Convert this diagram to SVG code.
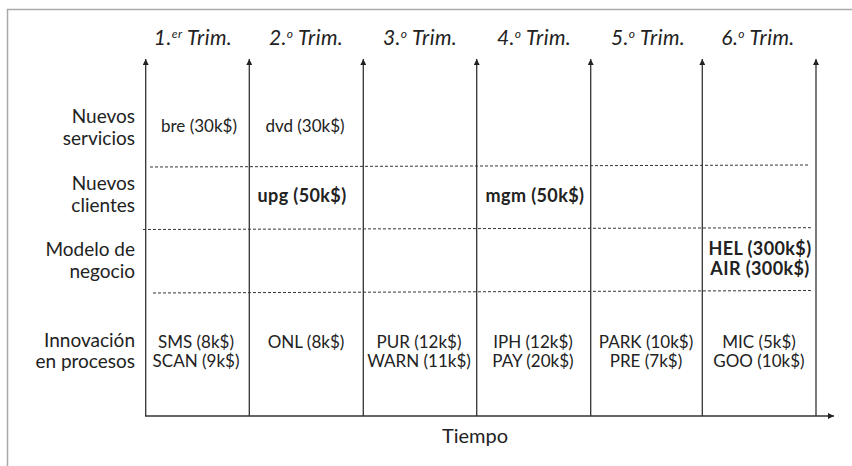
<svg xmlns="http://www.w3.org/2000/svg" width="852" height="466" viewBox="0 0 852 466">
<style>
.t{font-family:Lato,"Open Sans","Liberation Sans",sans-serif;fill:#222}
.lab{font-size:19px;text-anchor:end}
.cell{font-size:17px;text-anchor:middle}
.b{font-weight:bold;font-size:18px;letter-spacing:0.4px}
.hd{font-size:21px;font-style:italic;text-anchor:middle;letter-spacing:0.4px}
.sup{font-size:12px}
.ax{stroke:#333;stroke-width:1.3;fill:none}
.dash{stroke:#333;stroke-width:1;stroke-dasharray:3 2;fill:none}
</style>
<defs>
<marker id="ah" viewBox="0 0 8 8" refX="8" refY="4" markerWidth="6" markerHeight="6" markerUnits="userSpaceOnUse" orient="auto">
<path d="M0,0 L8,4 L0,8 Z" fill="#222"/>
</marker>
</defs>
<rect x="0" y="0" width="852" height="466" fill="#fff"/>
<path d="M7.5,466 V9.5 H852" stroke="#aaa" stroke-width="1.5" fill="none"/>

<g id="connectors">
<line class="ax" x1="145.7" y1="416" x2="145.7" y2="59" marker-end="url(#ah)"/>
<line class="ax" x1="249.3" y1="416" x2="249.3" y2="59" marker-end="url(#ah)"/>
<line class="ax" x1="363.3" y1="416" x2="363.3" y2="59" marker-end="url(#ah)"/>
<line class="ax" x1="476.7" y1="416" x2="476.7" y2="59" marker-end="url(#ah)"/>
<line class="ax" x1="590.7" y1="416" x2="590.7" y2="59" marker-end="url(#ah)"/>
<line class="ax" x1="702.3" y1="416" x2="702.3" y2="59" marker-end="url(#ah)"/>
<line class="ax" x1="816" y1="416" x2="816" y2="59" marker-end="url(#ah)"/>
<line class="ax" x1="145" y1="416" x2="834" y2="416" marker-end="url(#ah)"/>
<line class="dash" x1="150" y1="167" x2="808" y2="165"/>
<line class="dash" x1="143" y1="229.5" x2="811" y2="227.7"/>
<line class="dash" x1="153" y1="293" x2="812" y2="290.5"/>
</g>

<g id="headers">
<text class="t hd" x="193" y="45">1.<tspan class="sup" dy="-7">er</tspan><tspan dy="7"> Trim.</tspan></text>
<text class="t hd" x="306" y="45">2.<tspan class="sup" dy="-7">o</tspan><tspan dy="7"> Trim.</tspan></text>
<text class="t hd" x="420" y="45">3.<tspan class="sup" dy="-7">o</tspan><tspan dy="7"> Trim.</tspan></text>
<text class="t hd" x="534" y="45">4.<tspan class="sup" dy="-7">o</tspan><tspan dy="7"> Trim.</tspan></text>
<text class="t hd" x="648" y="45">5.<tspan class="sup" dy="-7">o</tspan><tspan dy="7"> Trim.</tspan></text>
<text class="t hd" x="758" y="45">6.<tspan class="sup" dy="-7">o</tspan><tspan dy="7"> Trim.</tspan></text>
</g>

<g id="row-labels">
<text class="t lab" x="135" y="123">Nuevos</text>
<text class="t lab" x="135" y="145">servicios</text>
<text class="t lab" x="135" y="190">Nuevos</text>
<text class="t lab" x="135" y="212">clientes</text>
<text class="t lab" x="135" y="256">Modelo de</text>
<text class="t lab" x="135" y="278">negocio</text>
<text class="t lab" x="135" y="347">Innovación</text>
<text class="t lab" x="135" y="368">en procesos</text>
</g>

<g id="cells">
<text class="t cell" x="199" y="132">bre (30k$)</text>
<text class="t cell" x="305" y="132">dvd (30k$)</text>
<text class="t cell b" x="302" y="202">upg (50k$)</text>
<text class="t cell b" x="535" y="202">mgm (50k$)</text>
<text class="t cell b" x="760" y="255">HEL (300k$)</text>
<text class="t cell b" x="760" y="275">AIR (300k$)</text>
<text class="t cell" x="196" y="348">SMS (8k$)</text>
<text class="t cell" x="196" y="367">SCAN (9k$)</text>
<text class="t cell" x="306" y="348">ONL (8k$)</text>
<text class="t cell" x="419" y="348">PUR (12k$)</text>
<text class="t cell" x="419" y="367">WARN (11k$)</text>
<text class="t cell" x="533" y="348">IPH (12k$)</text>
<text class="t cell" x="533" y="367">PAY (20k$)</text>
<text class="t cell" x="646" y="348">PARK (10k$)</text>
<text class="t cell" x="646" y="367">PRE (7k$)</text>
<text class="t cell" x="759" y="348">MIC (5k$)</text>
<text class="t cell" x="759" y="367">GOO (10k$)</text>
</g>

<g id="axis-label">
<text class="t" x="475" y="443" font-size="20" text-anchor="middle">Tiempo</text>
</g>
</svg>
